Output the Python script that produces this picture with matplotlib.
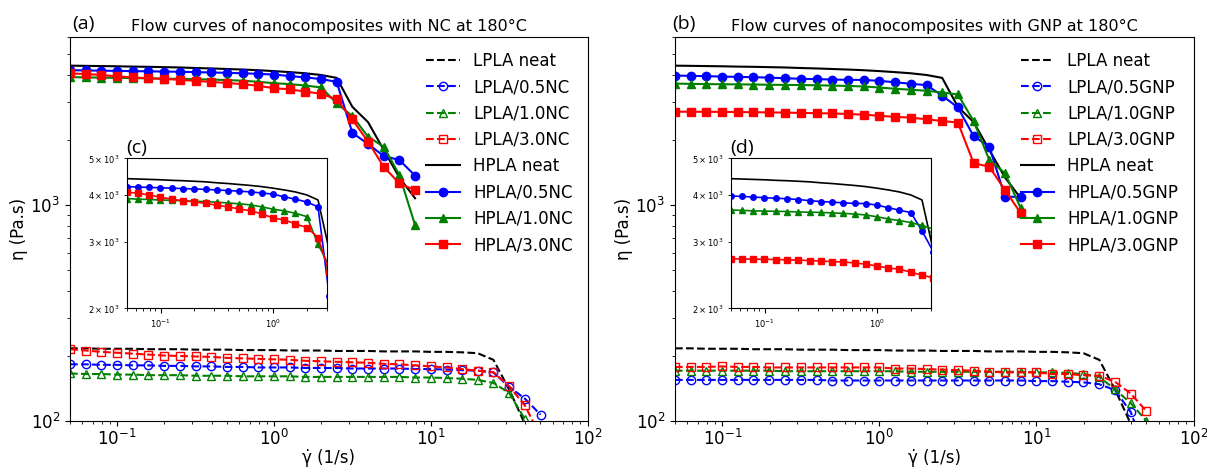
import matplotlib
matplotlib.use("Agg")
import matplotlib.pyplot as plt

# shear rates (1/s)
rate = [0.05, 0.0629, 0.0792, 0.0997, 0.1256, 0.158, 0.199, 0.251, 0.316, 0.398,
        0.501, 0.631, 0.794, 1.0, 1.26, 1.58, 2.0, 2.51, 3.16, 3.98,
        5.01, 6.31, 7.94, 10.0, 12.6, 15.8, 19.9, 25.1, 31.6, 39.8, 50.1]

# viscosity (Pa.s), shared neat resins
lpla_neat = [217, 217, 216, 216, 216, 215, 215, 215, 214, 214, 214, 213, 213, 213, 212,
             212, 212, 211, 211, 211, 210, 210, 210, 209, 209, 208, 206, 192, 140, 97]
hpla_neat = [4420, 4410, 4400, 4390, 4375, 4365, 4350, 4335, 4310, 4290, 4265, 4240,
             4210, 4170, 4125, 4075, 4000, 3880, 2850, 2420, 1800, 1340, 1075]

# NC composites
lpla_05nc = [183, 183, 182, 182, 181, 181, 180, 180, 179, 179, 178, 178, 177, 177, 177, 176,
             176, 176, 175, 175, 175, 175, 174, 174, 173, 172, 171, 168, 144, 127, 107]
lpla_10nc = [166, 165, 165, 164, 164, 163, 163, 163, 162, 162, 162, 161, 161, 161, 161,
             160, 160, 160, 160, 160, 160, 160, 159, 159, 158, 157, 155, 150, 135, 102]
lpla_30nc = [215, 212, 209, 207, 205, 203, 201, 200, 199, 198, 196, 195, 194, 193, 192, 190,
             189, 188, 187, 186, 184, 183, 181, 179, 177, 174, 171, 168, 145, 118, 85]
hpla_05nc = [4210, 4200, 4190, 4180, 4170, 4160, 4150, 4140, 4125, 4110, 4095, 4075,
             4050, 4020, 3955, 3900, 3830, 3720, 2160, 1916, 1687, 1615, 1368]
hpla_10nc = [3913, 3900, 3890, 3880, 3870, 3860, 3850, 3840, 3828, 3810, 3790, 3765,
             3720, 3667, 3629, 3577, 3504, 2960, 2584, 2070, 1862, 1377, 807]
hpla_30nc = [4068, 4044, 4000, 3945, 3898, 3862, 3837, 3800, 3757, 3718, 3673, 3630,
             3565, 3474, 3435, 3352, 3277, 3083, 2490, 1965, 1503, 1259, 1172]

# GNP composites
lpla_05gnp = [155, 155, 155, 155, 155, 155, 155, 155, 155, 155, 154, 154, 154, 154, 154, 154,
              154, 154, 154, 154, 154, 154, 154, 153, 153, 152, 151, 148, 139, 110, 70]
lpla_10gnp = [171, 171, 171, 171, 171, 171, 171, 170, 170, 170, 170, 170, 170, 170, 170, 169,
              169, 169, 169, 169, 169, 169, 169, 168, 168, 167, 165, 160, 140, 121, 100]
lpla_30gnp = [178, 178, 178, 179, 178, 178, 177, 177, 177, 177, 177, 177, 177, 177, 175, 175,
              174, 173, 172, 171, 169, 168, 168, 168, 165, 165, 163, 162, 152, 134, 111]
hpla_05gnp = [3977, 3965, 3950, 3935, 3920, 3910, 3890, 3865, 3842, 3830, 3811, 3800,
              3795, 3760, 3700, 3645, 3591, 3211, 2830, 2084, 1862, 1092, 1092]
hpla_10gnp = [3650, 3640, 3630, 3625, 3620, 3615, 3605, 3600, 3595, 3585, 3574, 3560,
              3540, 3500, 3455, 3420, 3380, 3320, 3250, 2449, 1615, 1403, 966]
hpla_30gnp = [2706, 2704, 2702, 2700, 2695, 2690, 2685, 2679, 2670, 2662, 2655, 2640,
              2620, 2590, 2560, 2540, 2495, 2450, 2410, 1565, 1503, 1172, 917]

inset_yticks = [2000, 3000, 4000, 5000]
inset_ylabels = [r'$2\times10^{3}$', r'$3\times10^{3}$', r'$4\times10^{3}$', r'$5\times10^{3}$']

colors = ['b', 'g', 'r']
markers = ['o', '^', 's']
panel_font = ['Open Sans', 'DejaVu Sans']


def main_panel(ax, filler, lpla, hpla):
    ax.plot(rate[:len(lpla_neat)], lpla_neat, 'k--', label='LPLA neat')
    for y, c, m, f in zip(lpla, colors, markers, ['0.5', '1.0', '3.0']):
        ax.plot(rate[:len(y)], y, ls='--', color=c, marker=m, mfc='none', ms=6,
                label='LPLA/%s%s' % (f, filler))
    ax.plot(rate[:len(hpla_neat)], hpla_neat, 'k-', label='HPLA neat')
    for y, c, m, f in zip(hpla, colors, markers, ['0.5', '1.0', '3.0']):
        ax.plot(rate[:len(y)], y, ls='-', color=c, marker=m, ms=6,
                label='HPLA/%s%s' % (f, filler))
    ax.set_xscale('log')
    ax.set_yscale('log')
    ax.set_xlim(0.05, 100)
    ax.set_ylim(100, 6000)
    ax.tick_params(labelsize=12)
    ax.tick_params(axis='x', pad=2.5)
    ax.set_xlabel('γ̇ (1/s)', fontsize=12, labelpad=0)
    ax.set_ylabel('η (Pa.s)', fontsize=12, labelpad=2)
    ax.set_title('Flow curves of nanocomposites with %s at 180°C' % filler, fontsize=11.5, pad=4)
    ax.legend(loc='upper right', frameon=False, fontsize=12)


def inset_panel(ax, hpla):
    ax.plot(rate[:len(hpla_neat)], hpla_neat, 'k-', lw=1.2)
    for y, c, m in zip(hpla, colors, markers):
        ax.plot(rate[:len(y)], y, ls='-', color=c, marker=m, ms=4, lw=1.2)
    ax.set_xscale('log')
    ax.set_yscale('log')
    ax.set_xlim(0.05, 3)
    ax.set_ylim(2000, 5000)
    ax.set_yticks(inset_yticks, minor=True)
    ax.set_yticklabels(inset_ylabels, minor=True)
    ax.set_yticks([], minor=False)
    ax.tick_params(labelsize=6, which='both')
    ax.set_facecolor('white')


fig = plt.figure(figsize=(12.07, 4.67), dpi=100)
ax_a = fig.add_axes([0.058, 0.0985, 0.4288, 0.8223])
ax_b = fig.add_axes([0.5592, 0.0985, 0.4297, 0.8223])
main_panel(ax_a, 'NC', [lpla_05nc, lpla_10nc, lpla_30nc], [hpla_05nc, hpla_10nc, hpla_30nc])
main_panel(ax_b, 'GNP', [lpla_05gnp, lpla_10gnp, lpla_30gnp], [hpla_05gnp, hpla_10gnp, hpla_30gnp])

ax_c = fig.add_axes([0.105, 0.3398, 0.1657, 0.3208])
ax_d = fig.add_axes([0.6054, 0.3398, 0.1657, 0.3208])
inset_panel(ax_c, [hpla_05nc, hpla_10nc, hpla_30nc])
inset_panel(ax_d, [hpla_05gnp, hpla_10gnp, hpla_30gnp])

fig.text(72 / 1207, 1 - 24 / 467, '(a)', fontsize=14, family=panel_font, va='center')
fig.text(672 / 1207, 1 - 24 / 467, '(b)', fontsize=14, family=panel_font, va='center')
fig.text(126 / 1207, 1 - 148 / 467, '(c)', fontsize=14, family=panel_font, va='center')
fig.text(730 / 1207, 1 - 148 / 467, '(d)', fontsize=14, family=panel_font, va='center')

fig.savefig('out.png', dpi=100)
